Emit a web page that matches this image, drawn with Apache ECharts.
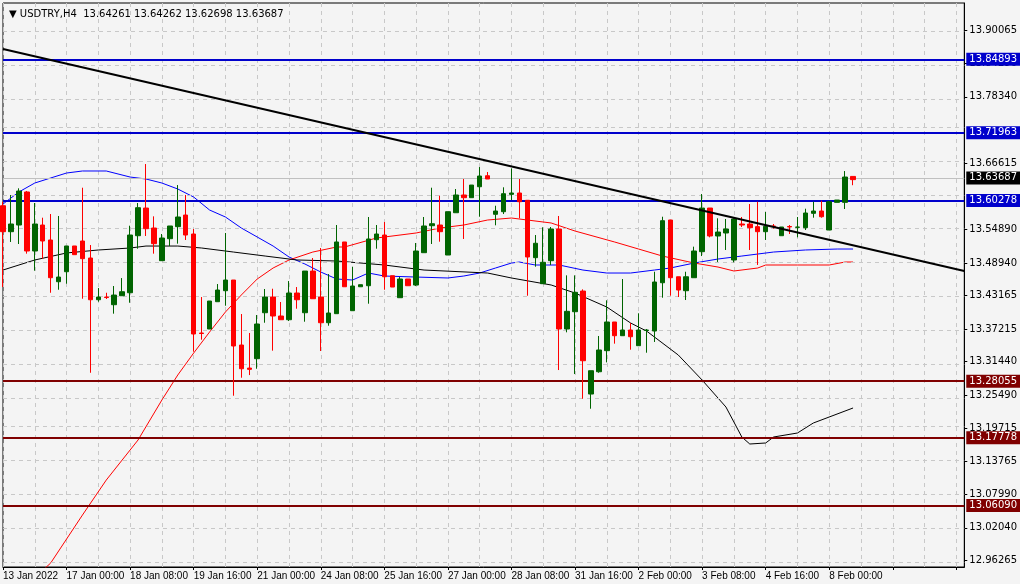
<!DOCTYPE html>
<html><head><meta charset="utf-8">
<script src="https://cdn.jsdelivr.net/npm/echarts@6/dist/echarts.min.js"></script>
<style>html,body{margin:0;padding:0;background:#f4f4f4}#c{width:1020px;height:584px}</style>
</head><body><div id="c"></div>
<script>
// candles: [open, close, low, high]
const candles = [
[13.5907,13.5447,13.4467,13.5978],[13.5447,13.5583,13.5265,13.6097],[13.5565,13.6167,13.5229,13.6215],[13.6150,13.5105,13.5058,13.6168],
[13.5105,13.5583,13.4756,13.5955],[13.5565,13.5282,13.4969,13.5695],[13.5300,13.4632,13.4366,13.5760],[13.4561,13.4644,13.4419,13.5725],
[13.4738,13.5194,13.4526,13.5194],[13.5194,13.5040,13.5040,13.5194],[13.5282,13.4969,13.4260,13.6226],[13.4981,13.4242,13.2949,13.5211],
[13.4242,13.4290,13.4207,13.4449],[13.4290,13.4281,13.4255,13.4366],[13.4154,13.4325,13.3995,13.4485],[13.4313,13.4384,13.4313,13.4626],
[13.4366,13.5388,13.4189,13.5553],[13.5376,13.5872,13.5146,13.5955],[13.5866,13.5500,13.5371,13.6645],[13.5512,13.5235,13.5058,13.5719],
[13.4934,13.5335,13.4928,13.5406],[13.5323,13.5548,13.5194,13.5548],[13.5536,13.5707,13.5235,13.6273],[13.5742,13.5388,13.5300,13.6097],
[13.5406,13.3635,13.3322,13.5495],[13.3653,13.3644,13.3534,13.4290],[13.3724,13.4219,13.3724,13.4219],[13.4207,13.4414,13.4207,13.4520],
[13.4402,13.4591,13.4136,13.5424],[13.4591,13.3423,13.2542,13.4591],[13.3440,13.3020,13.2861,13.3989],[13.3032,13.3009,13.2908,13.3653],
[13.3198,13.3812,13.3020,13.3971],[13.4012,13.4290,13.3835,13.4432],[13.4290,13.3954,13.3340,13.4437],[13.3954,13.3888,13.3888,13.4202],
[13.3888,13.4361,13.3865,13.4573],[13.4361,13.4242,13.4083,13.4467],[13.4012,13.4750,13.3853,13.4750],[13.4750,13.4260,13.4260,13.4981],
[13.4290,13.3835,13.3334,13.5158],[13.3835,13.4007,13.3782,13.4697],[13.3995,13.5265,13.3995,13.5565],[13.5265,13.4472,13.4472,13.5265],
[13.4048,13.4485,13.4048,13.4827],[13.4472,13.4508,13.4472,13.4508],[13.4490,13.5318,13.4172,13.5707],[13.5305,13.5406,13.5146,13.5565],
[13.5388,13.4649,13.4419,13.5619],[13.4667,13.4467,13.4467,13.4667],[13.4278,13.4609,13.4278,13.4644],[13.4609,13.4490,13.4490,13.4609],
[13.4502,13.5105,13.4484,13.5247],[13.5075,13.5548,13.5075,13.5707],[13.5553,13.5588,13.5229,13.6226],[13.5565,13.5447,13.5270,13.6086],
[13.5034,13.5801,13.5034,13.5801],[13.5783,13.6097,13.5783,13.6203],[13.6097,13.6049,13.5318,13.6380],[13.6049,13.6273,13.6049,13.6273],
[13.6243,13.6433,13.5712,13.6592],[13.6438,13.6380,13.6380,13.6504],[13.5755,13.5813,13.5560,13.5907],[13.5801,13.6120,13.5760,13.6233],
[13.6108,13.6132,13.6008,13.6569],[13.6132,13.5978,13.5684,13.6380],[13.6003,13.4999,13.4313,13.6008],[13.4987,13.5242,13.4827,13.5388],
[13.4526,13.4905,13.4526,13.5525],[13.4934,13.5495,13.4858,13.5530],[13.5495,13.3724,13.2997,13.5725],[13.3724,13.4037,13.3665,13.4674],
[13.4030,13.4373,13.2926,13.4674],[13.4396,13.3162,13.2489,13.4426],[13.2572,13.2985,13.2312,13.2985],[13.2967,13.3352,13.2949,13.3600],
[13.3340,13.3848,13.3133,13.4232],[13.3848,13.3605,13.3464,13.3848],[13.3605,13.3706,13.3605,13.4609],[13.3706,13.3587,13.3357,13.3830],
[13.3428,13.3706,13.3428,13.4002],[13.3697,13.3706,13.3304,13.3724],[13.3688,13.4556,13.3494,13.4738],[13.4543,13.5642,13.4278,13.5712],
[13.5654,13.4632,13.4313,13.5654],[13.4649,13.4414,13.4290,13.4649],[13.4402,13.4649,13.4237,13.4738],[13.4632,13.5105,13.4632,13.5182],
[13.5093,13.5866,13.5016,13.6114],[13.5866,13.5371,13.5347,13.5866],[13.5371,13.5441,13.4911,13.5684],[13.5424,13.5495,13.5123,13.5672],
[13.4946,13.5672,13.4905,13.5684],[13.5583,13.5565,13.5530,13.5707],[13.5583,13.5518,13.5123,13.5937],[13.5536,13.5447,13.4858,13.5978],
[13.5447,13.5542,13.5300,13.5796],[13.5548,13.5539,13.5500,13.5583],[13.5376,13.5530,13.5376,13.5530],[13.5539,13.5530,13.5406,13.5565],
[13.5524,13.5530,13.5347,13.5707],[13.5518,13.5778,13.5477,13.5854],[13.5772,13.5813,13.5695,13.5978],[13.5813,13.5712,13.5695,13.5996],
[13.5477,13.5978,13.5477,13.5996],[13.5967,13.6008,13.5967,13.6008],[13.5967,13.6415,13.5849,13.6521],[13.64261,13.63687,13.62698,13.64262]
];
const blueMA = [[0,13.5937],[2,13.6150],[4,13.6309],[6,13.6398],[8,13.6486],[10,13.6522],[13,13.6522],[16,13.6415],[18,13.6380],[20,13.6309],[22,13.6203],[24,13.6061],[26,13.5831],[28,13.5707],[30,13.5512],[32,13.5353],[34,13.5193],[36,13.4999],[38,13.4875],[40,13.4733],[42,13.4609],[44,13.4591],[46,13.4715],[48,13.4662],[52,13.4644],[56,13.4627],[58,13.4662],[60,13.4715],[62,13.4804],[64,13.4892],[65,13.4910],[67,13.4857],[70,13.4857],[73,13.4768],[76,13.4715],[79,13.4715],[82,13.4768],[84,13.4804],[87,13.4892],[90,13.4963],[93,13.5016],[97,13.5087],[101,13.5123],[105,13.5140],[107,13.5140]];
const redMA = [[5,12.945],[6,12.9579],[10,13.0429],[13,13.1049],[17,13.1758],[20,13.2466],[22,13.2909],[24,13.3298],[26,13.3670],[28,13.4025],[30,13.4326],[32,13.4609],[34,13.4804],[36,13.4946],[39,13.5087],[42,13.5176],[43,13.5176],[47,13.5335],[52,13.5424],[55,13.5512],[58,13.5565],[61,13.5654],[64,13.5689],[66,13.5654],[69,13.5601],[72,13.5459],[77,13.5264],[80,13.5140],[83,13.5016],[87,13.4892],[90,13.4821],[92,13.4751],[95,13.4804],[96,13.4857],[100,13.4857],[104,13.4857],[106,13.4910],[107,13.4910]];
const blackMA = [[0,13.4768],[4,13.4946],[8,13.5070],[12,13.5123],[16,13.5158],[18,13.5193],[22,13.5193],[25,13.5158],[29,13.5087],[33,13.5016],[37,13.4946],[42,13.4928],[48,13.4857],[53,13.4768],[61,13.4715],[64,13.4627],[69,13.4503],[72,13.4361],[76,13.4113],[79,13.3830],[81,13.3688],[85,13.3263],[88,13.2820],[91,13.2342],[93,13.1811],[94,13.1687],[96,13.1705],[97,13.1811],[100,13.1882],[102,13.2059],[107,13.2325]];
const trendLine = [[0,13.8682],[121,13.4751]];
const blueLevels = [13.84893,13.71963,13.60278];
const redLevels = [13.28055,13.17778,13.06090];
const lastPrice = 13.63687;
const yTicks = [13.90065,13.84290,13.78340,13.66615,13.54890,13.48940,13.43165,13.37215,13.31440,13.25490,13.19715,13.13765,13.07990,13.02040,12.96265];
const yGrid = [13.90065,13.84290,13.78340,13.72565,13.66615,13.60840,13.54890,13.48940,13.43165,13.37215,13.31440,13.25490,13.19715,13.13765,13.07990,13.02040,12.96265];
const xTickLabels = ['13 Jan 2022','17 Jan 00:00','18 Jan 08:00','19 Jan 16:00','21 Jan 00:00','24 Jan 08:00','25 Jan 16:00','27 Jan 00:00','28 Jan 08:00','31 Jan 16:00','2 Feb 00:00','3 Feb 08:00','4 Feb 16:00','8 Feb 00:00'];
const nSlots = 122;
const categories = Array.from({length:nSlots},(_,i)=>String(i));

const font = 'Tahoma, "DejaVu Sans", sans-serif';
const xfont = '"Liberation Sans", Arial, sans-serif';
function lvl(v,color,w,bg){return {yAxis:v,lineStyle:{color:color,width:w,type:'solid'},label:{show:!!bg,position:'end',formatter:v.toFixed(5),color:'#fff',backgroundColor:bg,padding:[2,3,1,3],fontSize:10,fontFamily:font,distance:2}};}
const chart = echarts.init(document.getElementById('c'));
chart.setOption({
  animation:false,
  backgroundColor:'#f4f4f4',
  title:{text:'▼ USDTRY,H4  13.64261 13.64262 13.62698 13.63687',left:4,top:4,textStyle:{fontSize:10,fontWeight:'normal',color:'#000',fontFamily:font}},
  grid:{left:3,right:52,top:3,bottom:17,show:true,borderColor:'#000',borderWidth:1},
  xAxis:{type:'category',data:categories,boundaryGap:false,
    axisLine:{lineStyle:{color:'#000'}},
    axisTick:{interval:7,length:3,lineStyle:{color:'#000'}},
    axisLabel:{interval:7,align:'left',fontSize:10,color:'#000',fontFamily:xfont,margin:4,
      formatter:(v,i)=>xTickLabels[i/8]||''},
    splitLine:{show:true,interval:3,lineStyle:{color:'#c8c8c8',type:[4,4]}}},
  yAxis:{type:'value',position:'right',min:12.9509,max:13.9497,
    axisLine:{show:true,lineStyle:{color:'#000'}},
    axisTick:{show:true,length:3,customValues:yTicks,lineStyle:{color:'#000'}},
    axisLabel:{customValues:yTicks,formatter:v=>v.toFixed(5),fontSize:10,color:'#000',fontFamily:font,margin:5},
    splitLine:{show:false}},
  series:[
    {type:'line',data:[],silent:true,z:1,markLine:{symbol:'none',silent:true,label:{show:false},
      data:yGrid.map(v=>({yAxis:v,lineStyle:{color:'#c8c8c8',type:[4,4],width:1}}))}},
    {type:'line',data:[],silent:true,z:2,markLine:{symbol:'none',silent:true,
      data:[{yAxis:lastPrice,lineStyle:{color:'#c0c0c0',width:1,type:'solid'},label:{show:true,position:'end',formatter:lastPrice.toFixed(5),color:'#fff',backgroundColor:'#000',padding:[2,3,1,3],fontSize:10,fontFamily:font,distance:2}}]}},
    {type:'candlestick',data:candles,barWidth:5,z:5,
      itemStyle:{color:'#006400',color0:'#ff0000',borderColor:'#006400',borderColor0:'#ff0000',borderWidth:1}},
    {type:'line',data:blueMA,showSymbol:false,smooth:false,z:4,lineStyle:{color:'#0000ff',width:1}},
    {type:'line',data:redMA,showSymbol:false,z:4,lineStyle:{color:'#ff0000',width:1}},
    {type:'line',data:blackMA,showSymbol:false,z:4,lineStyle:{color:'#000',width:1}},
    {type:'line',data:trendLine,showSymbol:false,z:6,lineStyle:{color:'#000',width:2}},
    {type:'line',data:[],silent:true,z:6,markLine:{symbol:'none',silent:true,
      data:blueLevels.map(v=>lvl(v,'#0000cc',2,'#0000cc')).concat(redLevels.map(v=>lvl(v,'#800000',2,'#800000')))}}
  ]
});
</script></body></html>
